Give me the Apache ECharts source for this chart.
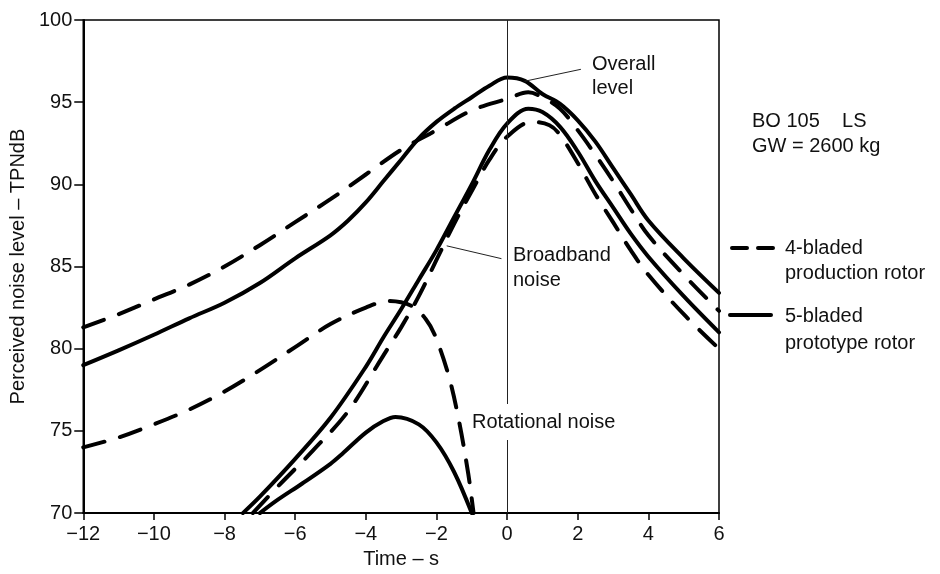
<!DOCTYPE html>
<html><head><meta charset="utf-8">
<script src="https://cdn.jsdelivr.net/npm/echarts@6/dist/echarts.min.js"></script>
<style>html,body{margin:0;padding:0;background:#fff}#c{width:940px;height:574px}</style>
</head><body><div id="c"></div>
<script>
// ---- data (time in s, level in TPNdB) ----
const overall4Time  = [-12,-11,-10,-9,-8,-7,-6,-5,-4,-3,-2,-1,0,0.6,1,1.5,2,2.5,3,3.5,4,5,6];
const overall4Level = [81.3,82.1,83.0,83.9,85.0,86.3,87.7,89.1,90.6,92.1,93.3,94.5,95.2,95.6,95.3,94.6,93.3,91.8,90.2,88.5,86.9,84.5,82.3];

const overall5Time  = [-12,-11,-10,-9,-8,-7,-6,-5,-4.5,-4,-3.5,-3,-2.5,-2,-1.5,-1,-0.5,0,0.5,1,1.5,2,2.5,3,3.5,4,5,6];
const overall5Level = [79.0,79.9,80.85,81.85,82.8,84.0,85.5,86.9,87.8,88.9,90.2,91.5,92.8,93.8,94.6,95.3,96.0,96.5,96.3,95.5,94.9,93.9,92.6,91.0,89.4,87.8,85.5,83.4];

const broad4Time  = [-7.2,-6.5,-5.5,-4.5,-3.5,-3,-2.5,-2,-1.5,-1,-0.5,0,0.7,1.2,1.5,2,2.5,3,3.5,4,5,6];
const broad4Level = [70,71.6,73.8,76.2,79.6,81.3,83.2,85.4,87.6,89.6,91.5,92.9,93.8,93.6,93.0,91.3,89.4,87.7,86.0,84.5,82.1,80.0];

const broad5Time  = [-7.48,-7,-6,-5,-4,-3.5,-3,-2.5,-2,-1.5,-1,-0.5,0,0.6,1,1.5,2,2.5,3,3.5,4,5,6];
const broad5Level = [70,71.0,73.3,75.8,78.9,80.7,82.4,84.2,86.0,88.0,90.0,92.1,93.7,94.6,94.4,93.5,92.0,90.2,88.6,87.0,85.6,83.2,81.0];

const rot4Time  = [-12,-11,-10,-9,-8,-7,-6,-5,-4,-3.35,-2.7,-2.3,-2.04,-1.66,-1.38,-1.1,-0.95];
const rot4Level = [74.0,74.6,75.4,76.3,77.4,78.7,80.1,81.5,82.5,82.9,82.6,81.8,80.8,78.4,75.8,72.4,70];

const rot5Time  = [-7.0,-6.5,-5.8,-5,-4.67,-4,-3.5,-3.16,-2.5,-2,-1.5,-1.0];
const rot5Level = [70,70.8,71.8,73.0,73.6,74.9,75.6,75.85,75.4,74.3,72.5,70];

const xMin = -12, xMax = 6, xStep = 2;
const yMin = 70, yMax = 100, yStep = 5;

// leader lines for annotations (data coordinates)
const overallLeader = [[2.09, 97.0], [0.49, 96.27]];
const broadLeader   = [[-0.16, 85.48], [-1.71, 86.26]];

const FONT = '"Liberation Sans", Arial, Helvetica, sans-serif';
const TXT = '#111';
function pairs(t, v){ return t.map((x, i) => [x, v[i]]); }
const dashed = {color:'#000', width:4, type:[22,16], cap:'round'};
const solid  = {color:'#000', width:4, cap:'round', join:'round'};
function line(name, t, v, ls){
  return {name, type:'line', data:pairs(t,v), smooth:0.35, symbol:'none', showSymbol:false,
          lineStyle:ls, clip:true, silent:true, z:3};
}
const chart = echarts.init(document.getElementById('c'));
const fmt = v => v < 0 ? '\u2212' + (-v) : '' + v;
const option = {
  animation:false,
  backgroundColor:'#fff',
  grid:{left:79, right:221, top:20, bottom:54, show:true, borderColor:'#000', borderWidth:1.5, backgroundColor:'transparent'},
  xAxis:{type:'value', min:xMin, max:xMax, interval:xStep,
    name:'Time \u2013 s', nameLocation:'middle', nameGap:34,
    nameTextStyle:{fontSize:20, color:TXT, fontFamily:FONT},
    axisLine:{show:true, onZero:false, lineStyle:{color:'#000', width:2}},
    axisTick:{show:true, length:7, lineStyle:{color:'#000', width:1.5}},
    axisLabel:{fontSize:20, color:TXT, fontFamily:FONT, margin:11, formatter:fmt, showMinLabel:true, showMaxLabel:true},
    splitLine:{show:false}},
  yAxis:{type:'value', min:yMin, max:yMax, interval:yStep,
    name:'Perceived noise level \u2013 TPNdB', nameLocation:'middle', nameGap:48,
    nameTextStyle:{fontSize:20, color:TXT, fontFamily:FONT},
    axisLine:{show:true, onZero:false, lineStyle:{color:'#000', width:2}},
    axisTick:{show:true, length:9, lineStyle:{color:'#000', width:1.5}},
    axisLabel:{fontSize:20, color:TXT, fontFamily:FONT, margin:11, showMinLabel:true, showMaxLabel:true},
    splitLine:{show:false}},
  series:[
    Object.assign(line('overall4', overall4Time, overall4Level, dashed), {
      markLine:{silent:true, symbol:['none','none'], label:{show:false}, animation:false,
        lineStyle:{color:'#222', width:1, type:'solid'},
        data:[
          {xAxis:0},
          [{coord:overallLeader[0]}, {coord:overallLeader[1]}],
          [{coord:broadLeader[0]}, {coord:broadLeader[1]}]
        ]}
    }),
    line('overall5', overall5Time, overall5Level, solid),
    line('broad4', broad4Time, broad4Level, dashed),
    line('broad5', broad5Time, broad5Level, solid),
    line('rot4', rot4Time, rot4Level, dashed),
    line('rot5', rot5Time, rot5Level, solid)
  ],
  graphic:[
    {type:'text', z:100, style:{text:'Overall\nlevel', x:592, y:52, font:'20px '+FONT, fill:TXT, lineHeight:24, verticalAlign:'top'}},
    {type:'text', z:100, style:{text:'Broadband\nnoise', x:513, y:243, font:'20px '+FONT, fill:TXT, lineHeight:25, verticalAlign:'top'}},
    {type:'text', z:100, style:{text:'Rotational noise', x:472, y:422, font:'20px '+FONT, fill:TXT, verticalAlign:'middle', backgroundColor:'#fff', padding:[8,2,8,0]}},
    {type:'text', z:100, style:{text:'BO 105    LS', x:752, y:121, font:'20px '+FONT, fill:TXT, verticalAlign:'middle'}},
    {type:'text', z:100, style:{text:'GW = 2600 kg', x:752, y:146, font:'20px '+FONT, fill:TXT, verticalAlign:'middle'}},
    {type:'line', z:100, shape:{x1:732, y1:248, x2:773, y2:248}, style:{stroke:'#000', lineWidth:4, lineDash:[15,11], lineCap:'round'}},
    {type:'text', z:100, style:{text:'4-bladed\nproduction rotor', x:785, y:236, font:'20px '+FONT, fill:TXT, lineHeight:25, verticalAlign:'top'}},
    {type:'line', z:100, shape:{x1:730, y1:315, x2:771, y2:315}, style:{stroke:'#000', lineWidth:4, lineCap:'round'}},
    {type:'text', z:100, style:{text:'5-bladed\nprototype rotor', x:785, y:303, font:'20px '+FONT, fill:TXT, lineHeight:27, verticalAlign:'top'}}
  ]
};
chart.setOption(option);
</script></body></html>
